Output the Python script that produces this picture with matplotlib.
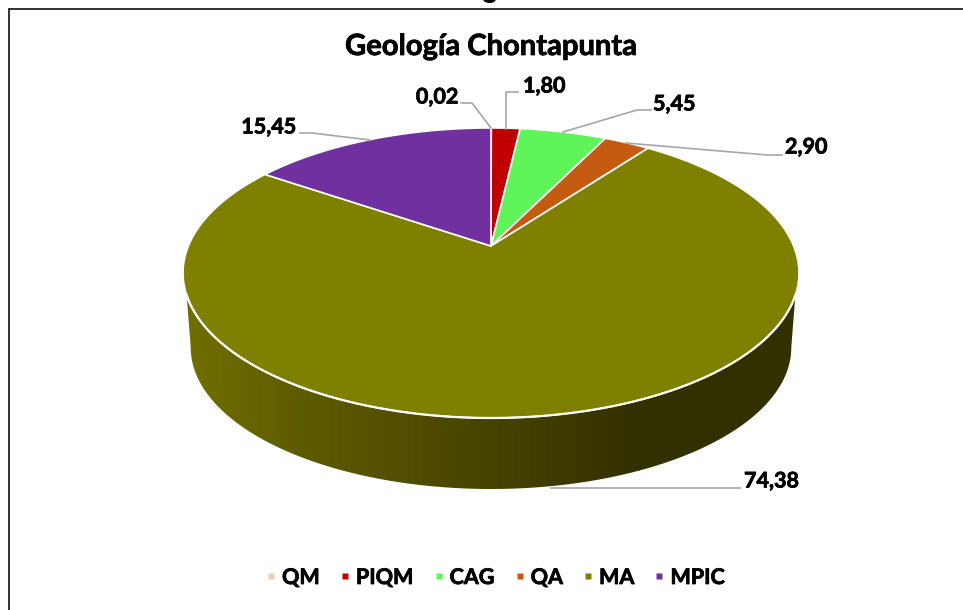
import numpy as np
import matplotlib
matplotlib.use("Agg")
import matplotlib.pyplot as plt
import matplotlib.patheffects as pe
from matplotlib.colors import LinearSegmentedColormap
from matplotlib.lines import Line2D
from matplotlib.patches import Ellipse, Polygon

categories = ["QM", "PIQM", "CAG", "QA", "MA", "MPIC"]
values = [0.02, 1.80, 5.45, 2.90, 74.38, 15.45]
value_labels = ["0,02", "1,80", "5,45", "2,90", "74,38", "15,45"]
colors = ["#F8CBAD", "#C00000", "#5FF45A", "#C55A11", "#808000", "#7030A0"]
title = "Geología Chontapunta"

plt.rcParams["font.family"] = ["Lato", "DejaVu Sans"]
plt.rcParams["font.weight"] = "bold"
heavy = [pe.withStroke(linewidth=0.55, foreground="black")]

fig = plt.figure(figsize=(9.63, 6.10), dpi=100)
ax = fig.add_axes([0, 0, 1, 1])
ax.set_axis_off()

# projected disc (pixel-based axes)
CX, CY, A, B, K = 491.0, 246.0, 140.0, 302.6, 0.186


def rim(theta, scale=1.0, drop=0.0):
    u, v = np.sin(theta), np.cos(theta)
    w = 1 + K * v
    return CX + scale * B * u / w, CY - scale * A * v / w + drop


# side wall with horizontal shading
th_top = np.radians(np.linspace(109.2, 250.8, 240))
xt, yt = rim(th_top)
th_bot = np.radians(np.linspace(259.3, 100.7, 300))
xb, yb = rim(th_bot, 0.975, 75.3)
wall_pts = np.column_stack([np.r_[xt, xb], np.r_[yt, yb]])
wall = Polygon(wall_pts, closed=True, fc="none", ec="none", transform=ax.transData)
ax.add_patch(wall)
stops = [(0.0, "#716F00"), (0.25, "#5E5C00"), (0.69, "#454200"), (1.0, "#333000")]
cmap = LinearSegmentedColormap.from_list("wall", stops)
grad = np.linspace(0, 1, 256).reshape(1, -1)
im = ax.imshow(grad, cmap=cmap, extent=[185, 640, 610, 0], aspect="auto", zorder=1)
im.set_clip_path(wall)
dark = ax.fill_between([639, 810], 0, 610, color="#333000", lw=0, zorder=1)
dark.set_clip_path(wall)

# top face from the values
edges = np.cumsum([0.0] + values) / sum(values) * 2 * np.pi
for start, end, col in zip(edges[:-1], edges[1:], colors):
    th = np.linspace(start, end, max(3, int((end - start) * 80)))
    x, y = rim(th)
    ax.fill(np.r_[CX, x], np.r_[CY, y], fc=col, ec="white", lw=1.2, joinstyle="round", zorder=3)
ax.plot(xt, yt, color="white", lw=1.6, zorder=3.5)

# data labels and leader lines
label_xy = [(458, 97), (523, 86), (653, 104), (785, 147), (744, 481), (296, 127)]
label_ha = ["right", "left", "left", "left", "left", "right"]
leaders = [
    ([461, 472, 491], [103, 103, 128]),
    ([518, 506, 506], [92, 92, 129]),
    ([651, 637, 563], [110, 110, 132]),
    ([782, 767, 626], [155, 155, 143]),
    ([740, 551], [488, 488]),
    ([300, 312, 370], [133, 133, 140]),
]
for txt, (lx, ly), ha, (px, py) in zip(value_labels, label_xy, label_ha, leaders):
    ax.plot(px, py, color="#A6A6A6", lw=1.2, zorder=4, solid_joinstyle="miter")
    ax.text(lx, ly, txt, ha=ha, va="center", fontsize=15.5, color="black", zorder=5,
            path_effects=heavy)

ax.text(491, 47, title, ha="center", va="center", fontsize=21, color="black",
        path_effects=heavy)

# frame and the clipped glyph remnant above it
ax.plot([9, 9, 963], [610, 9, 9], color="#222222", lw=1.3, solid_joinstyle="miter", zorder=6)
ax.add_patch(Ellipse((489.5, -1), 13, 8, fc="black", ec="none"))

handles = [Line2D([], [], ls="none", marker="s", ms=4.4, mfc=c, mec="none") for c in colors]
leg = ax.legend(
    handles, categories, loc="center", bbox_to_anchor=(496.5, 577.5),
    bbox_transform=ax.transData, ncol=6, frameon=False, fontsize=15.5,
    handlelength=0.28, handletextpad=0.37, columnspacing=1.03,
    borderpad=0, borderaxespad=0, labelspacing=0,
)
for t in leg.get_texts():
    t.set_path_effects(heavy)

ax.set_xlim(0, 963)
ax.set_ylim(610, 0)
fig.savefig("out.png", dpi=100, facecolor="white")
